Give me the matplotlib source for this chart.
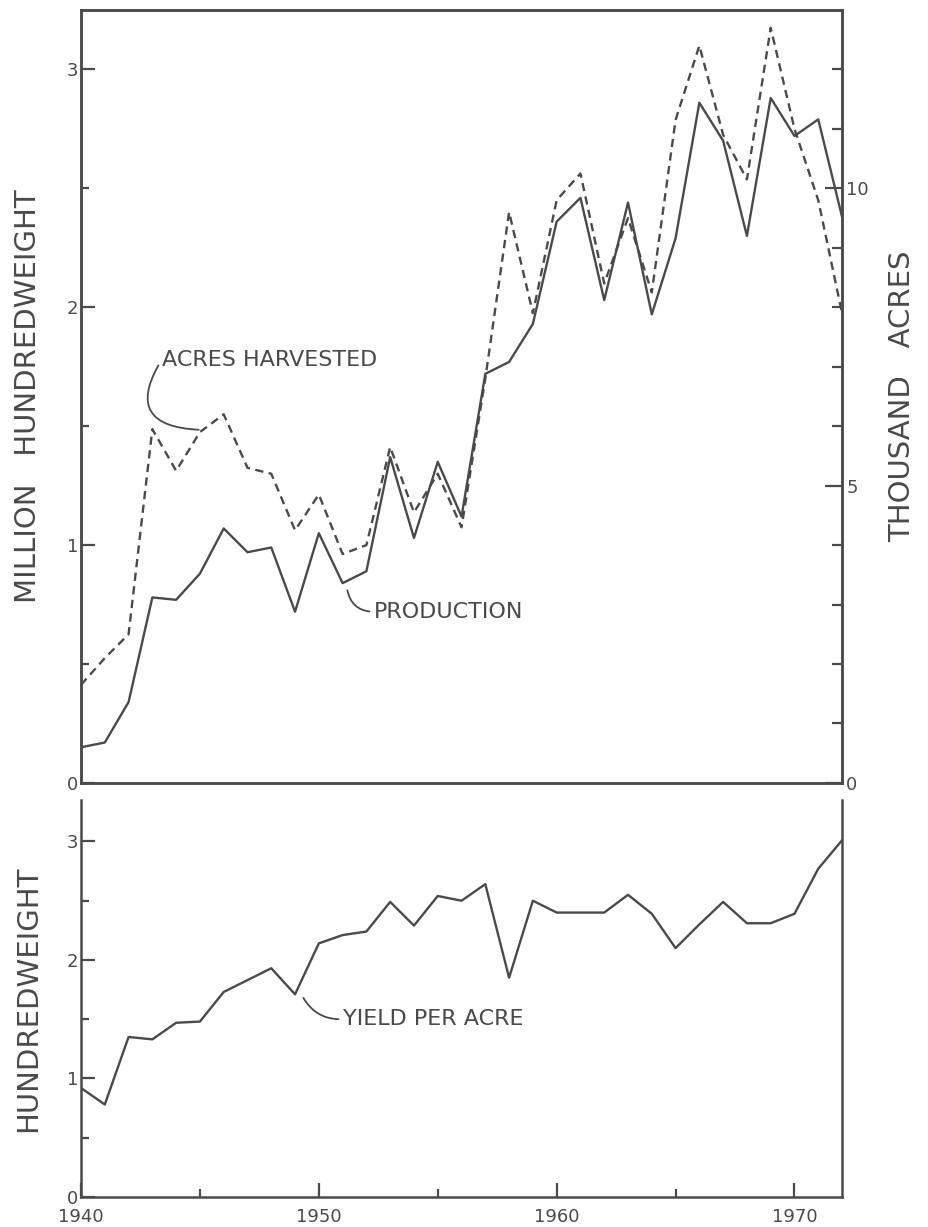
import matplotlib
matplotlib.use('Agg')
import matplotlib.pyplot as plt

plt.rcParams['font.family'] = ['DejaVu Sans']

# 1940 - 1972
years = list(range(1940, 1973))

# 생산량 (million cwt)
production = [0.15, 0.17, 0.34, 0.78, 0.77, 0.88, 1.07, 0.97, 0.99, 0.72,
              1.05, 0.84, 0.89, 1.37, 1.03, 1.35, 1.12, 1.72, 1.77, 1.93,
              2.36, 2.46, 2.03, 2.44, 1.97, 2.29, 2.86, 2.70, 2.30, 2.88,
              2.72, 2.79, 2.38]

# 수확면적 (thousand acres)
acres = [1.65, 2.1, 2.5, 5.95, 5.25, 5.9, 6.2, 5.3, 5.2, 4.25,
         4.85, 3.85, 4.0, 5.65, 4.55, 5.2, 4.3, 6.8, 9.6, 7.9,
         9.8, 10.25, 8.4, 9.5, 8.25, 11.15, 12.4, 10.9, 10.15, 12.7,
         11.0, 9.8, 7.9]

# 에이커당 수확량 (cwt)
yield_per_acre = [0.92, 0.78, 1.35, 1.33, 1.47, 1.48, 1.73, 1.83, 1.93, 1.71,
                  2.14, 2.21, 2.24, 2.49, 2.29, 2.54, 2.50, 2.64, 1.85, 2.50,
                  2.40, 2.40, 2.40, 2.55, 2.39, 2.10, 2.30, 2.49, 2.31, 2.31,
                  2.39, 2.77, 3.01]

ink = '#4a4a4a'
lw = 1.7
dash = (0, (3.5, 2.3))

fig = plt.figure(figsize=(9.29, 12.27), dpi=100)
ax1 = fig.add_axes([0.0872, 0.3619, 0.8192, 0.6300])
ax2 = fig.add_axes([0.0872, 0.0245, 0.8192, 0.3235])
ax1r = ax1.twinx()

# 상단: 생산량 / 면적 ----------
ax1.plot(years, production, color=ink, lw=lw)
ax1r.plot(years, acres, color=ink, lw=lw, linestyle=dash)

ax1.set_xlim(1940, 1972)
ax1.set_ylim(0, 3.25)
ax1r.set_ylim(0, 13)
ax1.set_xticks([])
ax1.set_yticks([0, 1, 2, 3])
ax1.set_yticks([0.5, 1.5, 2.5], minor=True)
ax1r.set_yticks([0, 5, 10])
ax1r.set_yticks([1, 2, 3, 4, 6, 7, 8, 9, 11, 12], minor=True)

for a in (ax1, ax1r, ax2):
    for s in a.spines.values():
        s.set_color(ink)
        s.set_linewidth(1.8)

ax1.tick_params(axis='y', which='major', direction='in', length=10, width=1.6,
                color=ink, labelcolor=ink, labelsize=13, pad=2)
ax1.tick_params(axis='y', which='minor', direction='in', length=6, width=1.6, color=ink)
ax1r.tick_params(axis='y', which='major', direction='in', length=12, width=1.6,
                 color=ink, labelcolor=ink, labelsize=13, pad=3)
ax1r.tick_params(axis='y', which='minor', direction='in', length=7, width=1.6, color=ink)

ax1.set_ylabel('MILLION   HUNDREDWEIGHT', fontsize=21, color=ink, labelpad=18)
ax1r.set_ylabel('THOUSAND   ACRES', fontsize=21, color=ink, labelpad=14, rotation=90)

ax1.annotate('ACRES HARVESTED', xy=(years[5] - 0.05, acres[5] / 4 + 0.01),
             xytext=(1943.4, 1.78), fontsize=16, color=ink, va='center', ha='left',
             arrowprops=dict(arrowstyle='-', color=ink, lw=1.3, relpos=(0, 0.5),
                             shrinkA=1, shrinkB=0,
                             connectionstyle='arc3,rad=0.85'))
ax1.annotate('PRODUCTION', xy=(years[11] + 0.2, production[11] - 0.03),
             xytext=(1952.3, 0.72), fontsize=16, color=ink, va='center', ha='left',
             arrowprops=dict(arrowstyle='-', color=ink, lw=1.3, relpos=(0, 0.5),
                             shrinkA=1, shrinkB=0,
                             connectionstyle='arc3,rad=-0.4'))

# 하단: 수확량 ----------
ax2.plot(years, yield_per_acre, color=ink, lw=lw)
ax2.set_xlim(1940, 1972)
ax2.set_ylim(0, 3.35)
ax2.spines['top'].set_visible(False)
ax2.set_xticks([1940, 1950, 1960, 1970])
ax2.set_xticks([1945, 1955, 1965], minor=True)
ax2.set_yticks([0, 1, 2, 3])
ax2.set_yticks([0.5, 1.5, 2.5], minor=True)
ax2.tick_params(axis='both', which='major', direction='in', length=10, width=1.6,
                color=ink, labelcolor=ink, labelsize=13)
ax2.tick_params(axis='y', which='major', pad=2)
ax2.tick_params(axis='x', which='major', pad=8)
ax2.tick_params(axis='both', which='minor', direction='in', length=6, width=1.6, color=ink)
ax2.set_ylabel('HUNDREDWEIGHT', fontsize=21, color=ink, labelpad=18)

ax2.annotate('YIELD PER ACRE', xy=(years[9] + 0.35, yield_per_acre[9] - 0.03),
             xytext=(1951.0, 1.5), fontsize=16, color=ink, va='center', ha='left',
             arrowprops=dict(arrowstyle='-', color=ink, lw=1.3, relpos=(0, 0.5),
                             shrinkA=1, shrinkB=0,
                             connectionstyle='arc3,rad=-0.3'))

fig.savefig('out.png', dpi=100, facecolor='white')
